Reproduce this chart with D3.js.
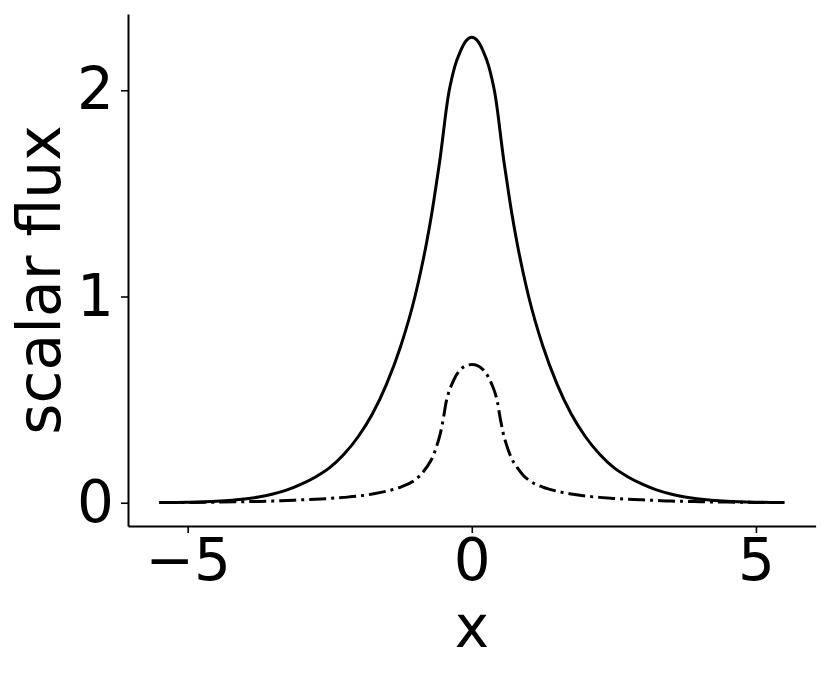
<!DOCTYPE html>
<html>
<head>
<meta charset="utf-8">
<script src="https://cdn.jsdelivr.net/npm/d3@7"></script>
<style>
  html, body { margin: 0; padding: 0; background: #fff; }
  text { font-family: "DejaVu Sans", sans-serif; fill: #000; }
</style>
</head>
<body>
<svg id="chart" width="830" height="674"></svg>
<script>
// Sample positions (symmetric profile)
const xHalf = [0, 0.1, 0.2, 0.3, 0.35, 0.4, 0.45, 0.5, 0.55, 0.6, 0.7, 0.8, 0.9, 1.0, 1.25, 1.5, 1.75, 2.0, 2.25, 2.5, 2.75, 3.0, 3.25, 3.5, 3.75, 4.0, 4.5, 5.0, 5.5];
// Solid curve: total scalar flux
const fluxTotalHalf = [2.257, 2.24, 2.19, 2.115, 2.06, 1.995, 1.905, 1.795, 1.685, 1.59, 1.41, 1.255, 1.12, 1.00, 0.76, 0.575, 0.43, 0.32, 0.235, 0.17, 0.125, 0.09, 0.062, 0.042, 0.028, 0.018, 0.007, 0.0025, 0.0008];
// Dash-dot curve: uncollided scalar flux
const fluxUncHalf = [0.670, 0.665, 0.645, 0.605, 0.575, 0.54, 0.49, 0.41, 0.34, 0.29, 0.215, 0.17, 0.135, 0.11, 0.076, 0.056, 0.042, 0.032, 0.026, 0.021, 0.017, 0.014, 0.011, 0.008, 0.0065, 0.005, 0.003, 0.0015, 0.0006];

const xTicks = [-5, 0, 5];
const yTicks = [0, 1, 2];

// build the full (symmetric) series
function mirror(xs, ys) {
  const pts = [];
  for (let i = xs.length - 1; i > 0; i--) pts.push([-xs[i], ys[i]]);
  for (let i = 0; i < xs.length; i++) pts.push([xs[i], ys[i]]);
  return pts;
}
const seriesTotal = mirror(xHalf, fluxTotalHalf);
const seriesUnc = mirror(xHalf, fluxUncHalf);

const svg = d3.select("#chart");
const plotLeft = 128, plotRight = 815.6, plotTop = 14, plotBottom = 526;

const x = d3.scaleLinear().domain([-6.05, 6.05]).range([plotLeft, plotRight]);
const y = d3.scaleLinear().domain([-0.1128, 2.3698]).range([plotBottom, plotTop]);

const line = d3.line()
  .x(d => x(d[0]))
  .y(d => y(d[1]))
  .curve(d3.curveMonotoneX);

svg.append("path")
  .datum(seriesUnc)
  .attr("d", line)
  .attr("fill", "none")
  .attr("stroke", "#000")
  .attr("stroke-width", 3)
  .attr("stroke-dasharray", "17,5,3,5");

svg.append("path")
  .datum(seriesTotal)
  .attr("d", line)
  .attr("fill", "none")
  .attr("stroke", "#000")
  .attr("stroke-width", 3);

// axes
const xAxis = d3.axisBottom(x).tickValues(xTicks).tickSize(7).tickSizeOuter(0).tickPadding(6)
  .tickFormat(d => d < 0 ? "\u2212" + Math.abs(d) : String(d));
const yAxis = d3.axisLeft(y).tickValues(yTicks).tickSize(7).tickSizeOuter(0).tickPadding(7)
  .tickFormat(d => String(d));

const gx = svg.append("g").attr("transform", `translate(0,${plotBottom})`).call(xAxis);
const gy = svg.append("g").attr("transform", `translate(${plotLeft},0)`).call(yAxis);

[gx, gy].forEach(g => {
  g.select(".domain").attr("stroke", "#000").attr("stroke-width", 2);
  g.selectAll(".tick line").attr("stroke", "#000").attr("stroke-width", 1.6);
  g.selectAll(".tick text")
    .attr("font-family", "DejaVu Sans, sans-serif")
    .attr("font-size", 58)
    .attr("fill", "#000");
});

// axis labels
svg.append("text")
  .attr("x", 472)
  .attr("y", 647)
  .attr("text-anchor", "middle")
  .attr("font-size", 58)
  .text("x");

svg.append("text")
  .attr("transform", "translate(60,280) rotate(-90)")
  .attr("text-anchor", "middle")
  .attr("font-size", 60)
  .text("scalar flux");
</script>
</body>
</html>
